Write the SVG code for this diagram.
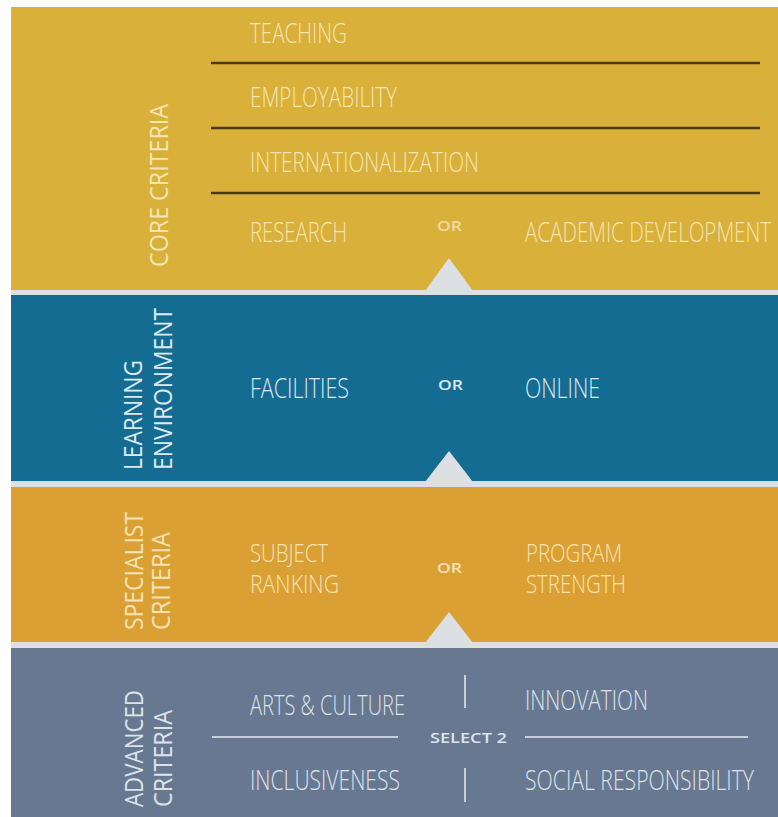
<svg xmlns="http://www.w3.org/2000/svg" width="778" height="817" viewBox="0 0 778 817">
<style>
.t{font-family:"Open Sans","Noto Sans","Liberation Sans",sans-serif;font-weight:300;font-size:27px}
.t2{font-family:"Open Sans","Noto Sans","Liberation Sans",sans-serif;font-weight:300;font-size:25px}
.v{font-family:"Open Sans","Noto Sans","Liberation Sans",sans-serif;font-weight:400;font-size:25px}
.or{font-family:"Open Sans","Noto Sans","Liberation Sans",sans-serif;font-weight:600;font-size:14px}
.sel{font-family:"Open Sans","Noto Sans","Liberation Sans",sans-serif;font-weight:600;font-size:15px}
.cy{fill:#F4E5B4}
.cb{fill:#DCEAF0}
.co{fill:#F6E2B4}
.cg{fill:#DDE3EB}
.sep{fill:#DCE0E2}
.dk{stroke:#4A3A12;stroke-width:2.5}
.lt{stroke:#C6CFDB;stroke-width:2}
</style>
<rect x="0" y="0" width="778" height="817" fill="#ffffff"/>
<g id="core">
<rect x="11" y="7" width="767" height="283" fill="#D9B03A"/>
<text class="v cy" transform="translate(168,267) rotate(-90)" textLength="163" lengthAdjust="spacingAndGlyphs">CORE CRITERIA</text>
<text class="t cy" x="250" y="43" textLength="97" lengthAdjust="spacingAndGlyphs">TEACHING</text>
<text class="t cy" x="250" y="107" textLength="147" lengthAdjust="spacingAndGlyphs">EMPLOYABILITY</text>
<text class="t cy" x="250" y="172" textLength="229" lengthAdjust="spacingAndGlyphs">INTERNATIONALIZATION</text>
<text class="t cy" x="250" y="242" textLength="97" lengthAdjust="spacingAndGlyphs">RESEARCH</text>
<text class="or" fill="#F0DCA0" x="437" y="231" textLength="25" lengthAdjust="spacingAndGlyphs">OR</text>
<text class="t cy" x="525" y="242" textLength="246" lengthAdjust="spacingAndGlyphs">ACADEMIC DEVELOPMENT</text>
</g>
<g id="learning">
<rect x="11" y="295" width="767" height="186" fill="#156C93"/>
<text class="v cb" transform="translate(142,470) rotate(-90)" textLength="110" lengthAdjust="spacingAndGlyphs">LEARNING</text>
<text class="v cb" transform="translate(172,470) rotate(-90)" textLength="162" lengthAdjust="spacingAndGlyphs">ENVIRONMENT</text>
<text class="t cb" x="250" y="398" textLength="99" lengthAdjust="spacingAndGlyphs">FACILITIES</text>
<text class="or cb" x="438" y="390" textLength="25" lengthAdjust="spacingAndGlyphs">OR</text>
<text class="t cb" x="525" y="398" textLength="75" lengthAdjust="spacingAndGlyphs">ONLINE</text>
</g>
<g id="specialist">
<rect x="11" y="487" width="767" height="155" fill="#DAA034"/>
<text class="v co" transform="translate(143,630) rotate(-90)" textLength="118" lengthAdjust="spacingAndGlyphs">SPECIALIST</text>
<text class="v co" transform="translate(170,630) rotate(-90)" textLength="98" lengthAdjust="spacingAndGlyphs">CRITERIA</text>
<text class="t2 co" x="250" y="562" textLength="78" lengthAdjust="spacingAndGlyphs">SUBJECT</text>
<text class="t2 co" x="250" y="593" textLength="89" lengthAdjust="spacingAndGlyphs">RANKING</text>
<text class="or co" x="437" y="573" textLength="25" lengthAdjust="spacingAndGlyphs">OR</text>
<text class="t2 co" x="526" y="562" textLength="96" lengthAdjust="spacingAndGlyphs">PROGRAM</text>
<text class="t2 co" x="526" y="593" textLength="100" lengthAdjust="spacingAndGlyphs">STRENGTH</text>
</g>
<g id="advanced">
<rect x="11" y="648" width="767" height="169" fill="#687890"/>
<text class="v cg" transform="translate(143,807) rotate(-90)" textLength="117" lengthAdjust="spacingAndGlyphs">ADVANCED</text>
<text class="v cg" transform="translate(172,807) rotate(-90)" textLength="97" lengthAdjust="spacingAndGlyphs">CRITERIA</text>
<text class="t cg" x="250" y="715" textLength="155" lengthAdjust="spacingAndGlyphs">ARTS &amp; CULTURE</text>
<text class="t cg" x="525" y="710" textLength="123" lengthAdjust="spacingAndGlyphs">INNOVATION</text>
<text class="sel cg" x="430" y="743" textLength="77" lengthAdjust="spacingAndGlyphs">SELECT 2</text>
<text class="t cg" x="250" y="790" textLength="150" lengthAdjust="spacingAndGlyphs">INCLUSIVENESS</text>
<text class="t cg" x="525" y="790" textLength="229" lengthAdjust="spacingAndGlyphs">SOCIAL RESPONSIBILITY</text>
</g>
<g id="separators">
<rect class="sep" x="11" y="290" width="767" height="5"/>
<rect class="sep" x="11" y="481" width="767" height="6"/>
<rect class="sep" x="11" y="642" width="767" height="6"/>
<polygon class="sep" points="425,291 449,258 473,291"/>
<polygon class="sep" points="425,482 449,451 473,482"/>
<polygon class="sep" points="425,643 449,612 473,643"/>
</g>
<g id="connectors">
<line class="dk" x1="211" y1="63" x2="760" y2="63"/>
<line class="dk" x1="211" y1="128" x2="760" y2="128"/>
<line class="dk" x1="211" y1="193" x2="760" y2="193"/>
<line class="lt" x1="212" y1="737" x2="398" y2="737"/>
<line class="lt" x1="525" y1="737" x2="748" y2="737"/>
<line class="lt" x1="465" y1="675" x2="465" y2="708"/>
<line class="lt" x1="465" y1="768" x2="465" y2="802"/>
</g>
</svg>
